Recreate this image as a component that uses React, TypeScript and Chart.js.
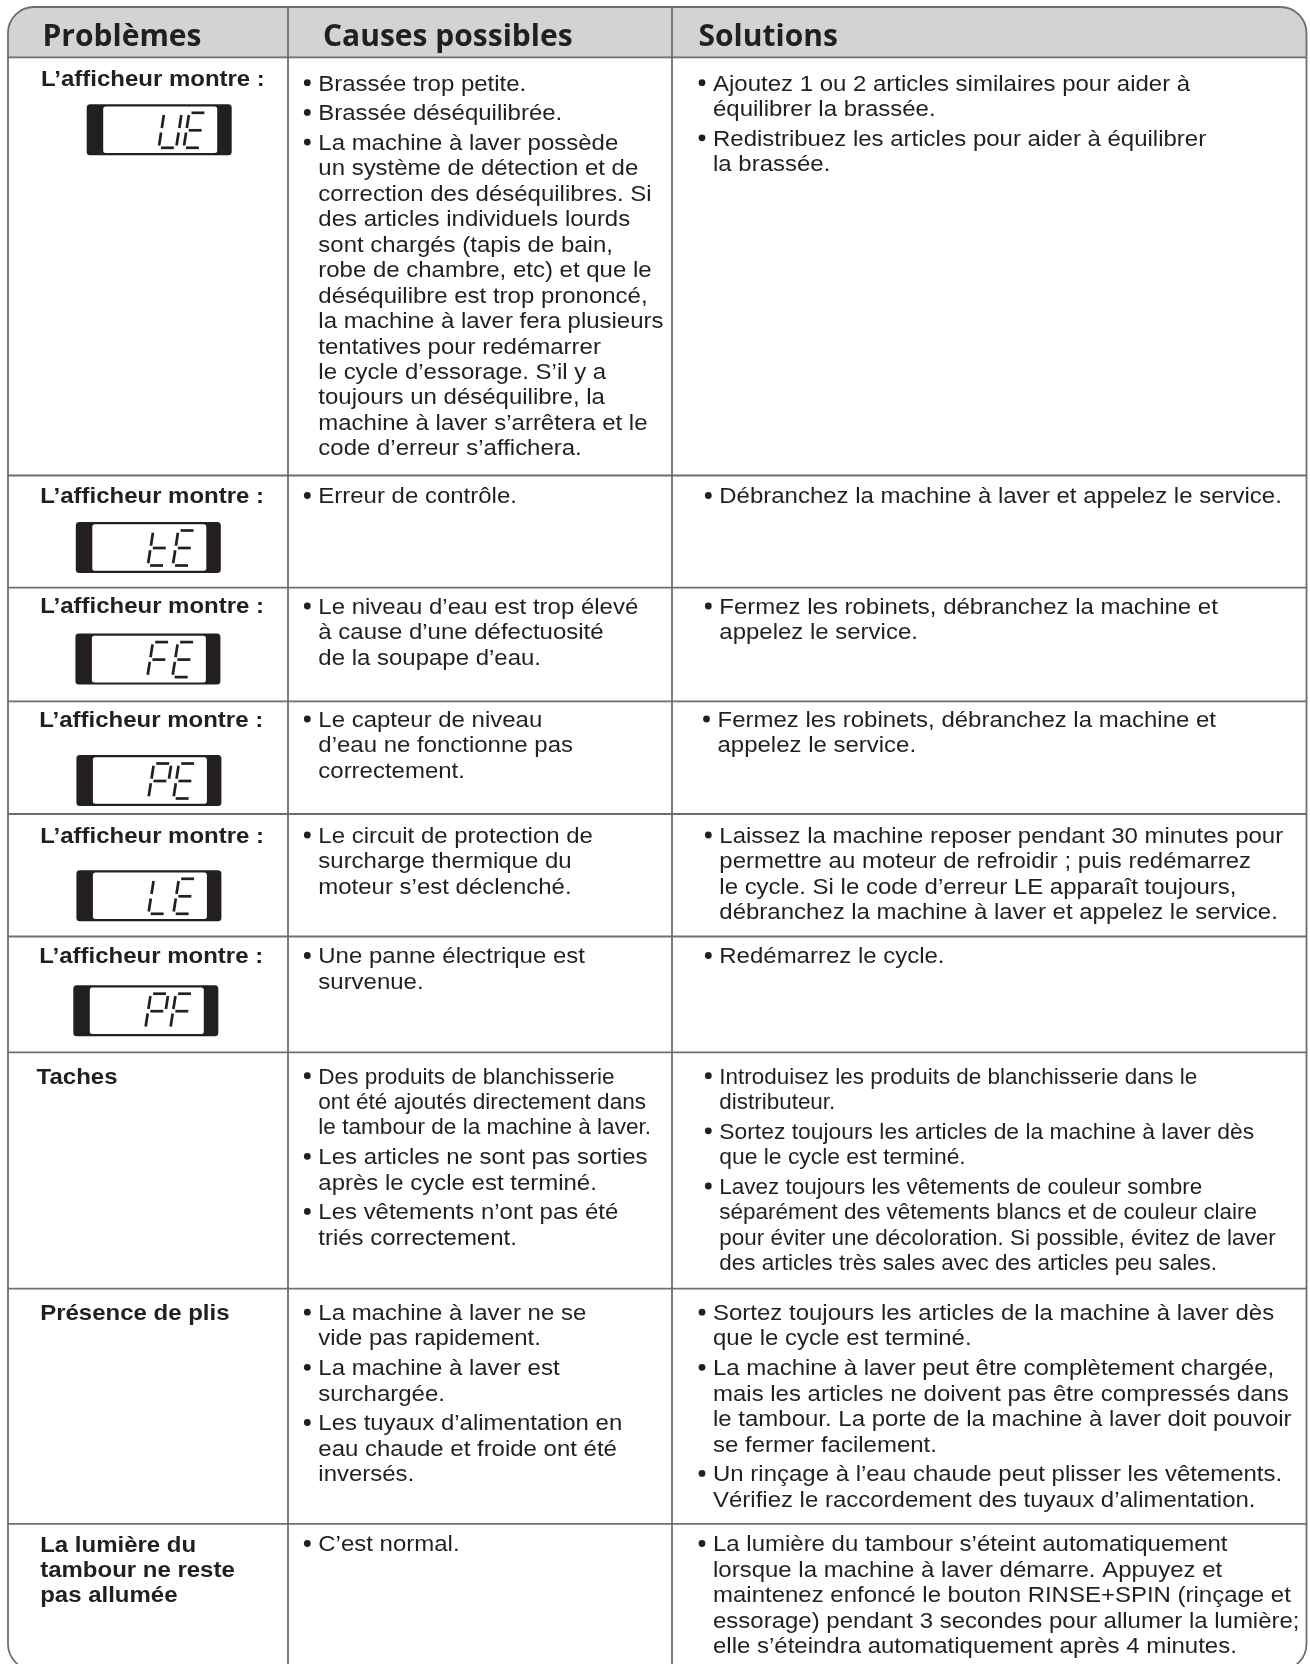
import React, { useEffect, useRef } from "react";
import { Chart, registerables } from "chart.js";

Chart.register(...registerables);

// ---------------- DATA ----------------
const HEADERS: string[] = ["Problèmes", "Causes possibles", "Solutions"];

const PROBLEM_LABELS: string[][] = [
  ["L’afficheur montre :"],
  ["L’afficheur montre :"],
  ["L’afficheur montre :"],
  ["L’afficheur montre :"],
  ["L’afficheur montre :"],
  ["L’afficheur montre :"],
  ["Taches"],
  ["Présence de plis"],
  ["La lumière du", "tambour ne reste", "pas allumée"],
];

const DISPLAY_CODES: string[] = ["UE", "tE", "FE", "PE", "LE", "PF", "", "", ""];

const CAUSES: string[][][] = [
  [
    ["Brassée trop petite."],
    ["Brassée déséquilibrée."],
    [
      "La machine à laver possède",
      "un système de détection et de",
      "correction des déséquilibres. Si",
      "des articles individuels lourds",
      "sont chargés (tapis de bain,",
      "robe de chambre, etc) et que le",
      "déséquilibre est trop prononcé,",
      "la machine à laver fera plusieurs",
      "tentatives pour redémarrer",
      "le cycle d’essorage. S’il y a",
      "toujours un déséquilibre, la",
      "machine à laver s’arrêtera et le",
      "code d’erreur s’affichera.",
    ],
  ],
  [["Erreur de contrôle."]],
  [["Le niveau d’eau est trop élevé", "à cause d’une défectuosité", "de la soupape d’eau."]],
  [["Le capteur de niveau", "d’eau ne fonctionne pas", "correctement."]],
  [["Le circuit de protection de", "surcharge thermique du", "moteur s’est déclenché."]],
  [["Une panne électrique est", "survenue."]],
  [
    ["Des produits de blanchisserie", "ont été ajoutés directement dans", "le tambour de la machine à laver."],
    ["Les articles ne sont pas sorties", "après le cycle est terminé."],
    ["Les vêtements n’ont pas été", "triés correctement."],
  ],
  [
    ["La machine à laver ne se", "vide pas rapidement."],
    ["La machine à laver est", "surchargée."],
    ["Les tuyaux d’alimentation en", "eau chaude et froide ont été", "inversés."],
  ],
  [["C’est normal."]],
];

const SOLUTIONS: string[][][] = [
  [
    ["Ajoutez 1 ou 2 articles similaires pour aider à", "équilibrer la brassée."],
    ["Redistribuez les articles pour aider à équilibrer", "la brassée."],
  ],
  [["Débranchez la machine à laver et appelez le service."]],
  [["Fermez les robinets, débranchez la machine et", "appelez le service."]],
  [["Fermez les robinets, débranchez la machine et", "appelez le service."]],
  [
    [
      "Laissez la machine reposer pendant 30 minutes pour",
      "permettre au moteur de refroidir ; puis redémarrez",
      "le cycle. Si le code d’erreur LE apparaît toujours,",
      "débranchez la machine à laver et appelez le service.",
    ],
  ],
  [["Redémarrez le cycle."]],
  [
    ["Introduisez les produits de blanchisserie dans le", "distributeur."],
    ["Sortez toujours les articles de la machine à laver dès", "que le cycle est terminé."],
    [
      "Lavez toujours les vêtements de couleur sombre",
      "séparément des vêtements blancs et de couleur claire",
      "pour éviter une décoloration. Si possible, évitez de laver",
      "des articles très sales avec des articles peu sales.",
    ],
  ],
  [
    ["Sortez toujours les articles de la machine à laver dès", "que le cycle est terminé."],
    [
      "La machine à laver peut être complètement chargée,",
      "mais les articles ne doivent pas être compressés dans",
      "le tambour. La porte de la machine à laver doit pouvoir",
      "se fermer facilement.",
    ],
    ["Un rinçage à l’eau chaude peut plisser les vêtements.", "Vérifiez le raccordement des tuyaux d’alimentation."],
  ],
  [
    [
      "La lumière du tambour s’éteint automatiquement",
      "lorsque la machine à laver démarre. Appuyez et",
      "maintenez enfoncé le bouton RINSE+SPIN (rinçage et",
      "essorage) pendant 3 secondes pour allumer la lumière;",
      "elle s’éteindra automatiquement après 4 minutes.",
    ],
  ],
];

// ---------------- LAYOUT (table units on the chart's scales) ----------------
const PAGE_W = 1310;
const PAGE_H = 1664;
const TABLE_LEFT = 8;
const TABLE_RIGHT = 1306.5;
const TABLE_TOP = 7;
const TABLE_BOTTOM = 1670;
const CORNER = 26;
const COL_EDGES = [288, 672];
const ROW_EDGES = [57.3, 475.5, 587.6, 701.3, 814, 936.5, 1052.3, 1288.6, 1523.8];
const HEADER_X = [42.5, 323, 698.5];
const HEADER_BASE = 46;
const LABEL_X = [41, 40.2, 40.2, 39.3, 40.2, 39.3, 36.6, 40.2, 40.2];
const LABEL_BASE = [85.5, 503.3, 613.3, 726.8, 842.8, 962.8, 1083.5, 1319.8, 1551.5];
const TEXT_BASE = [90.5, 503.3, 613.8, 726.8, 842.8, 963.3, 1083.5, 1320, 1551.3];
const CAUSE_X = 318.3;
const SOL_X = [713, 719.3, 719.3, 717.5, 719.3, 719.3, 719.3, 713, 713];
const DISPLAY_POS: [number, number][] = [
  [86.7, 104.3],
  [75.8, 522],
  [75.4, 633.6],
  [76.4, 755],
  [76.4, 870.3],
  [73.3, 985.2],
];
const LINE_H = 25.45;
const BULLET_GAP = 4.25;

// ---------------- STYLE ----------------
const INK = "#231f20";
const RULE = "#6d6e70";
const HEADER_BG = "#d2d3d5";
const BODY_FONT = "22px 'Liberation Sans', Arial, sans-serif";
const BOLD_FONT = "bold 22px 'Liberation Sans', Arial, sans-serif";
const HEAD_FONT = "700 30px 'Open Sans', sans-serif";
const TEXT_SX = 1.09;
// per-paragraph horizontal tracking of the printed source (row index -> factor per bullet)
const CAUSE_TRACK: Record<number, number[]> = { 6: [0.942, 1, 1] };
const SOL_TRACK: Record<number, number[]> = { 6: [0.936, 0.953, 0.936] };

const SEGMENTS: Record<string, string> = {
  U: "bcdef",
  E: "adefg",
  t: "defg",
  F: "aefg",
  P: "abefg",
  L: "def",
};
const SEG_ENDS: Record<string, [number, number, number, number]> = {
  a: [0, 1, 1, 1],
  b: [1, 1, 1, 0.5],
  c: [1, 0.5, 1, 0],
  d: [0, 0, 1, 0],
  e: [0, 0.5, 0, 0],
  f: [0, 1, 0, 0.5],
  g: [0, 0.5, 1, 0.5],
};

type Pt = { x: number; y: number };

function bulletPoints(): Pt[] {
  const pts: Pt[] = [];
  const addCol = (items: string[][], x: number, base: number) => {
    let y = base;
    items.forEach((lines) => {
      pts.push({ x: x - 11, y: y - 7.8 });
      y += lines.length * LINE_H + BULLET_GAP;
    });
  };
  CAUSES.forEach((items, r) => addCol(items, CAUSE_X, TEXT_BASE[r]));
  SOLUTIONS.forEach((items, r) => addCol(items, SOL_X[r], TEXT_BASE[r]));
  return pts;
}

function roundRectPath(ctx: CanvasRenderingContext2D, x: number, y: number, w: number, h: number, r: number) {
  ctx.beginPath();
  ctx.moveTo(x + r, y);
  ctx.lineTo(x + w - r, y);
  ctx.arcTo(x + w, y, x + w, y + r, r);
  ctx.lineTo(x + w, y + h - r);
  ctx.arcTo(x + w, y + h, x + w - r, y + h, r);
  ctx.lineTo(x + r, y + h);
  ctx.arcTo(x, y + h, x, y + h - r, r);
  ctx.lineTo(x, y + r);
  ctx.arcTo(x, y, x + r, y, r);
  ctx.closePath();
}

function drawText(ctx: CanvasRenderingContext2D, text: string, x: number, y: number, font: string, sx: number) {
  ctx.save();
  ctx.font = font;
  ctx.fillStyle = INK;
  ctx.textBaseline = "alphabetic";
  ctx.textAlign = "left";
  ctx.translate(x, y);
  ctx.scale(sx, 1);
  ctx.fillText(text, 0, 0);
  ctx.restore();
}

const tablePlugin = {
  id: "troubleTable",
  beforeDatasetsDraw(chart: any) {
    const ctx: CanvasRenderingContext2D = chart.ctx;
    const X = (v: number) => chart.scales.x.getPixelForValue(v);
    const Y = (v: number) => chart.scales.y.getPixelForValue(v);
    const l = X(TABLE_LEFT), r = X(TABLE_RIGHT), t = Y(TABLE_TOP), b = Y(TABLE_BOTTOM);
    ctx.save();
    roundRectPath(ctx, l, t, r - l, b - t, CORNER);
    ctx.fillStyle = "#ffffff";
    ctx.fill();
    ctx.save();
    ctx.clip();
    ctx.fillStyle = HEADER_BG;
    ctx.fillRect(l, t, r - l, Y(ROW_EDGES[0]) - t);
    ctx.restore();
    ctx.strokeStyle = RULE;
    ctx.lineWidth = 1.8;
    ROW_EDGES.forEach((ry) => {
      ctx.beginPath();
      ctx.moveTo(l, Y(ry));
      ctx.lineTo(r, Y(ry));
      ctx.stroke();
    });
    COL_EDGES.forEach((cx) => {
      ctx.beginPath();
      ctx.moveTo(X(cx), t);
      ctx.lineTo(X(cx), b);
      ctx.stroke();
    });
    roundRectPath(ctx, l, t, r - l, b - t, CORNER);
    ctx.stroke();
    ctx.restore();
  },
  afterDatasetsDraw(chart: any) {
    const ctx: CanvasRenderingContext2D = chart.ctx;
    const X = (v: number) => chart.scales.x.getPixelForValue(v);
    const Y = (v: number) => chart.scales.y.getPixelForValue(v);

    HEADERS.forEach((h, i) => drawText(ctx, h, X(HEADER_X[i]), Y(HEADER_BASE), HEAD_FONT, 1));

    PROBLEM_LABELS.forEach((lines, r) => {
      lines.forEach((ln, k) => drawText(ctx, ln, X(LABEL_X[r]), Y(LABEL_BASE[r] + k * LINE_H), BOLD_FONT, TEXT_SX));
    });

    const drawCol = (items: string[][], x: number, base: number, track?: number[]) => {
      let y = base;
      items.forEach((lines, bi) => {
        const f = track ? track[bi] : 1;
        lines.forEach((ln) => {
          drawText(ctx, ln, X(x), Y(y), BODY_FONT, TEXT_SX * f);
          y += LINE_H;
        });
        y += BULLET_GAP;
      });
    };
    CAUSES.forEach((items, r) => drawCol(items, CAUSE_X, TEXT_BASE[r], CAUSE_TRACK[r]));
    SOLUTIONS.forEach((items, r) => drawCol(items, SOL_X[r], TEXT_BASE[r], SOL_TRACK[r]));

    // LCD displays
    DISPLAY_CODES.forEach((code, r) => {
      if (!code) return;
      const [bx, by] = DISPLAY_POS[r];
      const x0 = X(bx), y0 = Y(by);
      const w = X(bx + 145) - x0, h = Y(by + 51) - y0;
      ctx.save();
      ctx.fillStyle = INK;
      roundRectPath(ctx, x0, y0, w, h, 3.5);
      ctx.fill();
      ctx.fillStyle = "#ffffff";
      roundRectPath(ctx, x0 + 16.5, y0 + 2.2, w - 16.5 - 14.5, h - 4.4, 2.5);
      ctx.fill();
      ctx.strokeStyle = INK;
      ctx.lineWidth = 2.7;
      ctx.lineCap = "butt";
      const dw = 17.5, dh = 35, slant = 5.5, gap = 2.3;
      code.split("").forEach((ch, i) => {
        const dx = x0 + 72 + i * 25;
        const yb = y0 + 8.5 + dh;
        const segs = SEGMENTS[ch] || "";
        segs.split("").forEach((s) => {
          const [u1, v1, u2, v2] = SEG_ENDS[s];
          let ax = dx + u1 * dw + v1 * slant, ay = yb - v1 * dh;
          let bx2 = dx + u2 * dw + v2 * slant, by2 = yb - v2 * dh;
          const len = Math.hypot(bx2 - ax, by2 - ay);
          const ux = (bx2 - ax) / len, uy = (by2 - ay) / len;
          ax += ux * gap; ay += uy * gap;
          bx2 -= ux * gap; by2 -= uy * gap;
          ctx.beginPath();
          ctx.moveTo(ax, ay);
          ctx.lineTo(bx2, by2);
          ctx.stroke();
        });
      });
      ctx.restore();
    });
  },
};

export default function App() {
  const ref = useRef<HTMLCanvasElement | null>(null);
  useEffect(() => {
    document.body.style.margin = "0";
    document.body.style.background = "#ffffff";
    const canvas = ref.current;
    if (!canvas) return;
    const chart = new Chart(canvas, {
      type: "scatter",
      data: {
        datasets: [
          {
            data: bulletPoints(),
            pointRadius: 3.4,
            pointHoverRadius: 3.4,
            pointStyle: "circle",
            backgroundColor: INK,
            borderWidth: 0,
            clip: false,
          },
        ],
      },
      options: {
        animation: false,
        responsive: false,
        maintainAspectRatio: false,
        events: [],
        layout: { padding: 0, autoPadding: false },
        plugins: { legend: { display: false }, tooltip: { enabled: false } },
        scales: {
          x: { type: "linear", min: 0, max: PAGE_W, display: false },
          y: { type: "linear", min: 0, max: PAGE_H, reverse: true, display: false },
        },
      },
      plugins: [tablePlugin],
    } as any);
    return () => chart.destroy();
  }, []);
  return (
    <canvas
      ref={ref}
      width={PAGE_W}
      height={PAGE_H}
      style={{ display: "block", width: PAGE_W + "px", height: PAGE_H + "px" }}
    />
  );
}
